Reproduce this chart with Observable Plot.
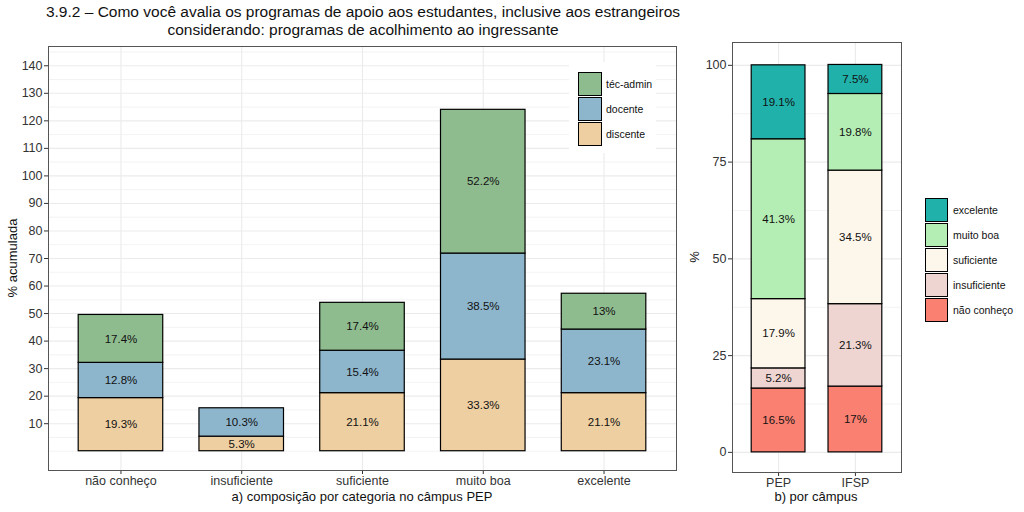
<!DOCTYPE html>
<html>
<head>
<meta charset="utf-8">
<script src="https://cdn.jsdelivr.net/npm/d3@7"></script>
<script src="https://cdn.jsdelivr.net/npm/@observablehq/plot@0.6"></script>
<style>
  html, body { margin: 0; padding: 0; background: #fff; }
  #wrap { position: relative; width: 1024px; height: 512px; overflow: hidden; background: #fff;
          font-family: "Liberation Sans", Arial, Helvetica, sans-serif; color: #000; }
  .abs { position: absolute; white-space: nowrap; }
  .key { position: absolute; box-sizing: border-box; border: 1.3px solid #000; }
  .lab { position: absolute; font-size: 10.5px; color: #111; line-height: 12px; }
</style>
</head>
<body>
<div id="wrap"></div>
<script>
// ---------------- data ----------------
const titleLines = [
  "3.9.2 – Como você avalia os programas de apoio aos estudantes, inclusive aos estrangeiros",
  "considerando: programas de acolhimento ao ingressante"
];
const categories = ["não conheço", "insuficiente", "suficiente", "muito boa", "excelente"];
const groups = ["discente", "docente", "téc-admin"];
const discente = [19.3, 5.3, 21.1, 33.3, 21.1];
const docente  = [12.8, 10.3, 15.4, 38.5, 23.1];
const tecAdmin = [17.4, 0, 17.4, 52.2, 13];
const groupColors = ["#EECFA1", "#8DB6CD", "#8FBC8F"];
const leftTicks = [10, 20, 30, 40, 50, 60, 70, 80, 90, 100, 110, 120, 130, 140];
const leftMinor = [0, 5, 15, 25, 35, 45, 55, 65, 75, 85, 95, 105, 115, 125, 135, 145];

const campuses = ["PEP", "IFSP"];
const ratings = ["não conheço", "insuficiente", "suficiente", "muito boa", "excelente"];
const pep  = [16.5, 5.2, 17.9, 41.3, 19.1];
const ifsp = [17, 21.3, 34.5, 19.8, 7.5];
const ratingColors = ["#FA8072", "#EED5D2", "#FDF6EA", "#B4EEB4", "#20B2AA"];
const rightTicks = [0, 25, 50, 75, 100];
const rightMinor = [12.5, 37.5, 62.5, 87.5];

const leftXTitle = "a) composição por categoria no câmpus PEP";
const leftYTitle = "% acumulada";
const rightXTitle = "b) por câmpus";
const rightYTitle = "%";

// ---------------- build tables ----------------
const seriesByGroup = [discente, docente, tecAdmin];
const leftRows = [];
categories.forEach((c, i) => {
  groups.forEach((g, j) => {
    const v = seriesByGroup[j][i];
    if (v > 0) leftRows.push({cat: c, group: g, value: v});
  });
});
const seriesByCampus = [pep, ifsp];
const rightRows = [];
campuses.forEach((c, i) => {
  ratings.forEach((r, j) => {
    rightRows.push({campus: c, rating: r, value: seriesByCampus[i][j]});
  });
});

const fmt = v => `${v}%`;
const FONT = '"Liberation Sans", Arial, Helvetica, sans-serif';
const wrap = document.getElementById("wrap");

// ---------------- left plot ----------------
const left = Plot.plot({
  width: 690, height: 512,
  marginLeft: 48, marginRight: 14, marginTop: 46, marginBottom: 42,
  style: {fontFamily: FONT, fontSize: "12.5px", color: "#333", background: "transparent"},
  x: {domain: categories, paddingInner: 0.3, paddingOuter: 0.25, round: false,
      label: null, tickSize: 4, tickPadding: 2},
  y: {domain: [-7, 147], ticks: leftTicks, tickSize: 4, tickPadding: 2, label: null,
      tickFormat: d => String(d)},
  color: {domain: groups, range: groupColors},
  marks: [
    Plot.ruleY(leftMinor, {stroke: "#EBEBEB", strokeWidth: 0.6}),
    Plot.ruleY(leftTicks, {stroke: "#EBEBEB", strokeWidth: 1.1}),
    Plot.ruleX(categories, {stroke: "#EBEBEB", strokeWidth: 1.1}),
    Plot.barY(leftRows, {x: "cat", y: "value", fill: "group", stroke: "#000", strokeWidth: 1.2}),
    Plot.text(leftRows, Plot.stackY({x: "cat", y: "value", z: "group", text: d => fmt(d.value),
      fill: "#111", fontSize: 11.5})),
    Plot.frame({stroke: "#555", strokeWidth: 1})
  ]
});
left.style.position = "absolute";
left.style.left = "0px";
left.style.top = "0px";
wrap.appendChild(left);

// ---------------- right plot ----------------
const right = Plot.plot({
  width: 240, height: 512,
  marginLeft: 52, marginRight: 19, marginTop: 42, marginBottom: 40,
  style: {fontFamily: FONT, fontSize: "12.5px", color: "#333", background: "transparent"},
  x: {domain: campuses, paddingInner: 0.3, paddingOuter: 0.25, round: false,
      label: null, tickSize: 4, tickPadding: 2},
  y: {domain: [-5.2, 105.9], ticks: rightTicks, tickSize: 4, tickPadding: 2, label: null,
      tickFormat: d => String(d)},
  color: {domain: ratings, range: ratingColors},
  marks: [
    Plot.ruleY(rightMinor, {stroke: "#EBEBEB", strokeWidth: 0.6}),
    Plot.ruleY(rightTicks, {stroke: "#EBEBEB", strokeWidth: 1.1}),
    Plot.ruleX(campuses, {stroke: "#EBEBEB", strokeWidth: 1.1}),
    Plot.barY(rightRows, {x: "campus", y: "value", fill: "rating", stroke: "#000", strokeWidth: 1.2}),
    Plot.text(rightRows, Plot.stackY({x: "campus", y: "value", z: "rating", text: d => fmt(d.value),
      fill: "#111", fontSize: 11.5})),
    Plot.frame({stroke: "#555", strokeWidth: 1})
  ]
});
right.style.position = "absolute";
right.style.left = "680px";
right.style.top = "0px";
wrap.appendChild(right);

// ---------------- texts ----------------
function addText(txt, css) {
  const d = document.createElement("div");
  d.className = "abs";
  d.textContent = txt;
  Object.assign(d.style, css);
  wrap.appendChild(d);
  return d;
}
// title
const t = document.createElement("div");
t.className = "abs";
Object.assign(t.style, {left: "0px", width: "726px", top: "3px", textAlign: "center",
  fontSize: "15.5px", lineHeight: "17.5px", color: "#111"});
t.innerHTML = titleLines.map(s => `<div>${s}</div>`).join("");
wrap.appendChild(t);

// axis titles
addText(leftXTitle, {left: "62px", width: "600px", top: "489px", textAlign: "center", fontSize: "13px", color: "#111"});
addText(rightXTitle, {left: "716px", width: "200px", top: "489px", textAlign: "center", fontSize: "13px", color: "#111"});
addText(leftYTitle, {left: "12px", top: "258px", fontSize: "13px", color: "#111",
  transform: "translate(-50%,-50%) rotate(-90deg)"});
addText(rightYTitle, {left: "694px", top: "257px", fontSize: "13px", color: "#111",
  transform: "translate(-50%,-50%) rotate(-90deg)"});

// left legend (inside panel)
const lg = document.createElement("div");
lg.className = "abs";
Object.assign(lg.style, {left: "569px", top: "62px", width: "87px", height: "91px", background: "#fff"});
wrap.appendChild(lg);
const legendOrder = groups.slice().reverse();
legendOrder.forEach((g, i) => {
  const k = document.createElement("div");
  k.className = "key";
  Object.assign(k.style, {left: "578px", top: (72 + i * 25) + "px", width: "24px", height: "24px",
    background: groupColors[groups.indexOf(g)]});
  wrap.appendChild(k);
  const l = document.createElement("div");
  l.className = "lab";
  l.textContent = g;
  Object.assign(l.style, {left: "606px", top: (72 + i * 25 + 6) + "px"});
  wrap.appendChild(l);
});

// right legend
const ratingOrder = ratings.slice().reverse();
ratingOrder.forEach((r, i) => {
  const k = document.createElement("div");
  k.className = "key";
  Object.assign(k.style, {left: "925px", top: (198 + i * 25) + "px", width: "23px", height: "24px",
    background: ratingColors[ratings.indexOf(r)]});
  wrap.appendChild(k);
  const l = document.createElement("div");
  l.className = "lab";
  l.textContent = r;
  Object.assign(l.style, {left: "953px", top: (198 + i * 25 + 6) + "px"});
  wrap.appendChild(l);
});
</script>
</body>
</html>
